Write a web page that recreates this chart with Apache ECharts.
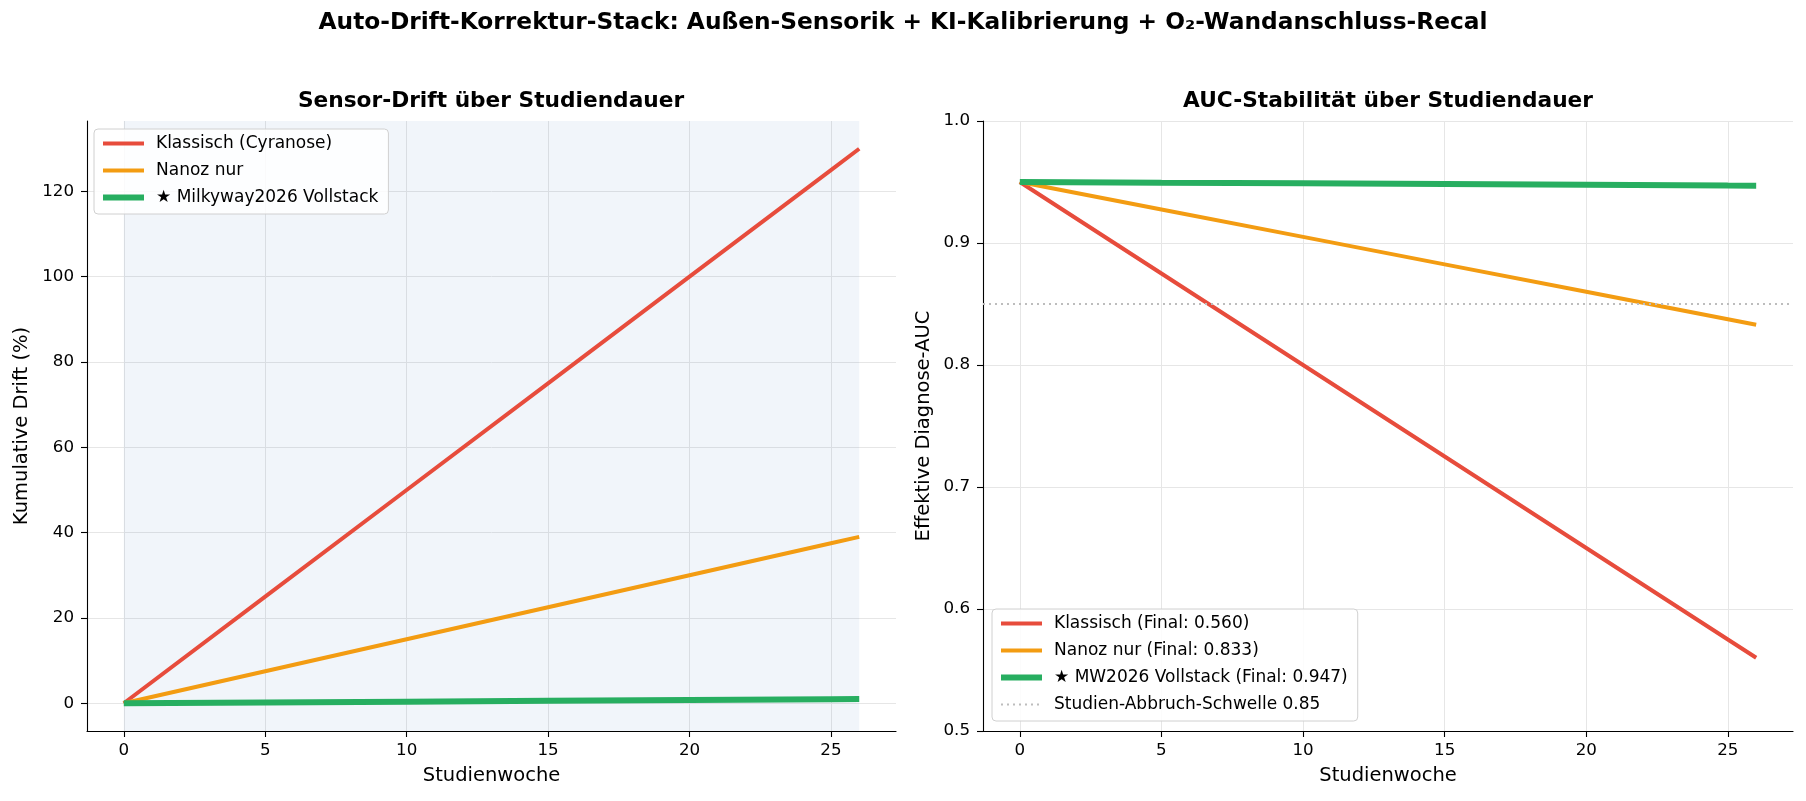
<!DOCTYPE html>
<html>
<head>
<meta charset="utf-8">
<title>Auto-Drift-Korrektur-Stack</title>
<script src="https://cdn.jsdelivr.net/npm/echarts@6.0.0/dist/echarts.min.js"></script>
<style>
  html, body { margin: 0; padding: 0; background: #fff; }
  #chart { width: 1806px; height: 801px; }
</style>
</head>
<body>
<div id="chart"></div>
<script>
/* Drift + AUC over study duration, two panels side by side. */
const weeks = [0, 5, 10, 15, 20, 25, 26];

const driftKlassisch = [0, 25, 50, 75, 100, 125, 130];
const driftNanoz     = [0, 7.5, 15, 22.5, 30, 37.5, 39];
const driftMilkyway  = [0, 0.19, 0.38, 0.58, 0.77, 0.96, 1.0];

const aucKlassisch = [0.95, 0.875, 0.80, 0.725, 0.65, 0.575, 0.56];
const aucNanoz     = [0.95, 0.9275, 0.905, 0.8825, 0.86, 0.8375, 0.833];
const aucMilkyway  = [0.95, 0.9494, 0.9489, 0.9483, 0.9477, 0.9471, 0.947];

const aucThreshold = 0.85;
const shadeRange = [0, 26];

const xTicks = [0, 5, 10, 15, 20, 25];
const driftTicks = [0, 20, 40, 60, 80, 100, 120];
const aucTicks = [0.5, 0.6, 0.7, 0.8, 0.9, 1.0];

const namesLeft = ['Klassisch (Cyranose)', 'Nanoz nur', '★ Milkyway2026 Vollstack'];
const namesRight = ['Klassisch (Final: 0.560)', 'Nanoz nur (Final: 0.833)',
  '★ MW2026 Vollstack (Final: 0.947)', 'Studien-Abbruch-Schwelle 0.85'];

const C = {
  red: '#e74c3c', orange: '#f39c12', green: '#27ae60',
  grid: '#e6e6e6', axis: '#000', text: '#000', thresh: '#bdbdbd',
  font: "'DejaVu Sans', sans-serif"
};
const W = { main: 4, star: 6, thresh: 2 };

const pairs = (ys) => weeks.map((w, i) => [w, ys[i]]);

const chart = echarts.init(document.getElementById('chart'), null, { renderer: 'canvas' });

function xAxisFor(gridIndex) {
  return {
    type: 'value', gridIndex, min: -1.3, max: 27.3,
    name: 'Studienwoche', nameLocation: 'middle', nameGap: 35,
    nameTextStyle: { color: C.text, fontSize: 19.5, fontFamily: C.font },
    axisLine: { show: true, onZero: false, lineStyle: { color: C.axis, width: 1.1 } },
    axisTick: { show: true, length: 6, customValues: xTicks, lineStyle: { color: C.axis, width: 1.1 } },
    axisLabel: { customValues: xTicks, color: C.text, fontSize: 16.7, fontFamily: C.font, margin: 11 },
    splitLine: { show: true, lineStyle: { color: C.grid, width: 1 } }
  };
}

function yAxisFor(gridIndex, min, max, ticks, name, gap, fmt) {
  return {
    type: 'value', gridIndex, min, max,
    name, nameLocation: 'middle', nameGap: gap, nameRotate: 90,
    nameTextStyle: { color: C.text, fontSize: 19.5, fontFamily: C.font },
    axisLine: { show: true, onZero: false, lineStyle: { color: C.axis, width: 1.1 } },
    axisTick: { show: true, length: 6, customValues: ticks, lineStyle: { color: C.axis, width: 1.1 } },
    axisLabel: { customValues: ticks, color: C.text, fontSize: 16.7, fontFamily: C.font, margin: 13,
      formatter: fmt },
    splitLine: { show: true, lineStyle: { color: C.grid, width: 1 } }
  };
}

const legendBase = {
  orient: 'vertical', itemWidth: 41, itemHeight: 14, itemGap: 10,
  padding: [6, 10, 8, 6],
  backgroundColor: 'rgba(255,255,255,0.85)', borderColor: '#d0d0d0', borderWidth: 1, borderRadius: 4,
  itemStyle: { color: 'transparent', borderColor: 'transparent', borderWidth: 0 },
  textStyle: { color: C.text, fontSize: 17, lineHeight: 17, fontFamily: C.font, padding: [0, 0, 0, 7] }
};

function legendItem(name, color, width, type) {
  return { name, lineStyle: { color, width, type: type || 'solid', cap: 'butt' } };
}

function line(name, data, color, width, xi, yi, z) {
  return {
    name, type: 'line', xAxisIndex: xi, yAxisIndex: yi, data,
    symbol: 'none', showSymbol: false, z,
    lineStyle: { color, width, cap: 'butt' }, itemStyle: { color },
    emphasis: { disabled: true }
  };
}

chart.setOption({
  animation: false,
  graphic: [
    { type: 'text', x: 903, y: 23, style: { text: 'Auto-Drift-Korrektur-Stack: Außen-Sensorik + KI-Kalibrierung + O₂-Wandanschluss-Recal',
      fill: C.text, font: "bold 23.3px 'DejaVu Sans'", textAlign: 'center', textVerticalAlign: 'middle' } },
    { type: 'text', x: 491, y: 101, style: { text: 'Sensor-Drift über Studiendauer',
      fill: C.text, font: "bold 21.7px 'DejaVu Sans'", textAlign: 'center', textVerticalAlign: 'middle' } },
    { type: 'text', x: 1388, y: 101, style: { text: 'AUC-Stabilität über Studiendauer',
      fill: C.text, font: "bold 21.7px 'DejaVu Sans'", textAlign: 'center', textVerticalAlign: 'middle' } }
  ],
  grid: [
    { left: 87, top: 121, width: 809, height: 610 },
    { left: 983, top: 121, width: 810, height: 610 }
  ],
  xAxis: [xAxisFor(0), xAxisFor(1)],
  yAxis: [
    yAxisFor(0, -6.5, 136.5, driftTicks, 'Kumulative Drift (%)', 55, (v) => String(v)),
    yAxisFor(1, 0.5, 1.0, aucTicks, 'Effektive Diagnose-AUC', 49, (v) => v.toFixed(1))
  ],
  legend: [
    { ...legendBase, left: 94, top: 129, data: [
      legendItem(namesLeft[0], C.red, W.main),
      legendItem(namesLeft[1], C.orange, W.main),
      legendItem(namesLeft[2], C.green, W.star)
    ] },
    { ...legendBase, left: 992, bottom: 80, data: [
      legendItem(namesRight[0], C.red, W.main),
      legendItem(namesRight[1], C.orange, W.main),
      legendItem(namesRight[2], C.green, W.star),
      legendItem(namesRight[3], C.thresh, W.thresh, [2, 4])
    ] }
  ],
  series: [
    {
      ...line(namesLeft[0], pairs(driftKlassisch), C.red, W.main, 0, 0, 3),
      markArea: {
        silent: true, z: 1,
        itemStyle: { color: 'rgba(70,120,190,0.075)' },
        data: [[{ xAxis: shadeRange[0] }, { xAxis: shadeRange[1] }]]
      }
    },
    line(namesLeft[1], pairs(driftNanoz), C.orange, W.main, 0, 0, 3),
    line(namesLeft[2], pairs(driftMilkyway), C.green, W.star, 0, 0, 4),

    line(namesRight[0], pairs(aucKlassisch), C.red, W.main, 1, 1, 3),
    line(namesRight[1], pairs(aucNanoz), C.orange, W.main, 1, 1, 3),
    line(namesRight[2], pairs(aucMilkyway), C.green, W.star, 1, 1, 4),
    {
      name: namesRight[3], type: 'line', xAxisIndex: 1, yAxisIndex: 1, data: [],
      symbol: 'none', z: 2,
      lineStyle: { color: C.thresh, width: W.thresh, type: [2, 4] }, itemStyle: { color: C.thresh },
      markLine: {
        silent: true, symbol: 'none', label: { show: false },
        lineStyle: { color: C.thresh, width: W.thresh, type: [2, 4] },
        data: [{ yAxis: aucThreshold }]
      }
    }
  ]
});
</script>
</body>
</html>
